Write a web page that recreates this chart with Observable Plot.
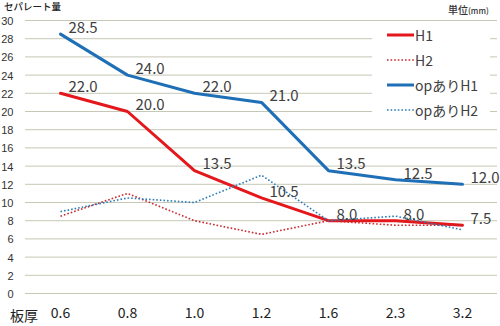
<!DOCTYPE html>
<html><head><meta charset="utf-8">
<script src="https://cdn.jsdelivr.net/npm/d3@7"></script>
<script src="https://cdn.jsdelivr.net/npm/@observablehq/plot@0.6"></script>
<style>
body{margin:0;background:#fff;font-family:"Noto Sans CJK JP","Noto Sans",sans-serif;}
#wrap{position:relative;width:500px;height:326px;overflow:hidden;background:#fff}
#wrap > svg{position:absolute;left:0;top:0}
.ann{position:absolute;white-space:nowrap;color:#333;line-height:1}
.legend{position:absolute;left:372px;top:23px;width:118px;height:96px;background:#fff}
.item{position:absolute;left:0;height:20px;width:118px}
.item svg{position:absolute;left:15px;top:0;width:28px;height:20px}
.item .lb{position:absolute;left:43px;top:1px;font-size:14px;color:#404040;line-height:18px}
</style></head><body><div id="wrap"></div>
<script>
const categories = ["0.6","0.8","1.0","1.2","1.6","2.3","3.2"];
const h1   = [22.0, 20.0, 13.5, 10.5, 8.0, 8.0, 7.5];
const h2   = [8.5, 11.0, 8.0, 6.5, 8.0, 7.5, 7.5];
const opH1 = [28.5, 24.0, 22.0, 21.0, 13.5, 12.5, 12.0];
const opH2 = [9.0, 10.5, 10.0, 13.0, 8.0, 8.5, 7.0];
const yTicks = d3.range(0, 31, 2);
const seriesNames = ["H1", "H2", "opありH1", "opありH2"];
const seriesValues = [h1, h2, opH1, opH2];
const seriesLabeled = [true, false, true, false];

const styles = {
  "H1":      {stroke:"#e3171c", width:3,   dash:null},
  "H2":      {stroke:"#c8282e", width:1.6, dash:"1.6,2"},
  "opありH1": {stroke:"#1f6fb6", width:3,   dash:null},
  "opありH2": {stroke:"#2b7cba", width:1.6, dash:"1.6,2"}
};

const rows = [];
seriesNames.forEach((s, i) => categories.forEach((c, j) => rows.push({series:s, cat:c, v:seriesValues[i][j], labeled:seriesLabeled[i]})));

const lineMarks = seriesNames.map(s => Plot.line(rows.filter(d => d.series === s), {
  x:"cat", y:"v", stroke: styles[s].stroke, strokeWidth: styles[s].width,
  strokeDasharray: styles[s].dash || undefined, strokeLinejoin:"round", strokeLinecap: styles[s].dash ? "butt" : "round"
}));

const chart = Plot.plot({
  width:500, height:326,
  marginTop:20, marginBottom:33, marginLeft:25, marginRight:3,
  style:{fontFamily:'"Noto Sans CJK JP","Noto Sans",sans-serif', background:"transparent"},
  x:{type:"point", domain:categories, padding:0.5, label:null},
  y:{domain:[0,30], ticks:yTicks, label:null},
  marks:[
    Plot.gridY(yTicks, {stroke:"#c6c8b6", strokeOpacity:1, strokeWidth:1}),
    Plot.axisY(yTicks, {tickSize:0, tickPadding:12, fontSize:11, fill:"#333", label:null, dy:1, fontFamily:'"Liberation Sans",sans-serif'}),
    Plot.axisX({tickSize:0, tickPadding:15, fontSize:14, fill:"#222", label:null}),
    ...lineMarks,
    Plot.text(rows.filter(d => d.labeled), {
      x:"cat", y:"v", text: d => d3.format(".1f")(d.v),
      textAnchor:"start", dx:8, dy:-6, fontSize:15, fill:"#404040"
    })
  ]
});
const wrap = document.getElementById("wrap");
wrap.appendChild(chart);

function ann(text, css){ const d=document.createElement("div"); d.className="ann"; d.innerHTML=text; Object.assign(d.style, css); wrap.appendChild(d); }
ann("セパレート量", {left:"4px", top:"2.3px", fontSize:"9.5px", fontWeight:"500", color:"#222"});
ann('単位<span style="font-size:8px">(mm)</span>', {left:"448px", top:"5px", fontSize:"10px", fontWeight:"500", color:"#333"});
ann("板厚", {left:"10px", top:"308px", fontSize:"14px", color:"#222"});

const lg = document.createElement("div"); lg.className="legend"; wrap.appendChild(lg);
seriesNames.forEach((s, i) => {
  const it = document.createElement("div"); it.className="item"; it.style.top = (2 + i*25) + "px";
  const st = styles[s];
  const sw = d3.create("svg");
  sw.append("line").attr("x1",0).attr("x2",27).attr("y1",10).attr("y2",10)
    .attr("stroke",st.stroke).attr("stroke-width",st.width)
    .attr("stroke-dasharray",st.dash);
  const lb = document.createElement("div"); lb.className="lb"; lb.textContent = s;
  it.appendChild(sw.node()); it.appendChild(lb); lg.appendChild(it);
});
</script>
</body></html>
